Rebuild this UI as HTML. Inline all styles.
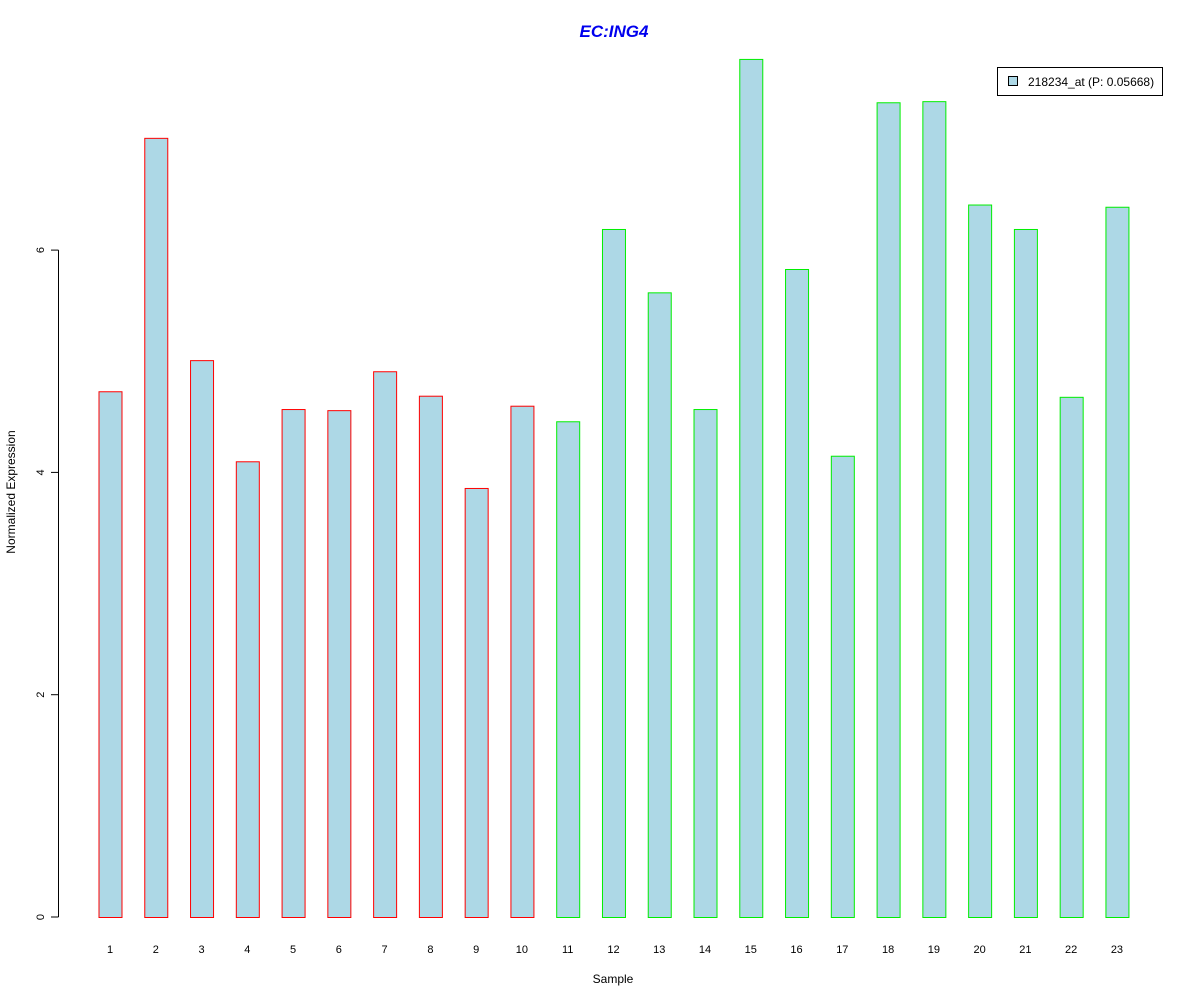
<!DOCTYPE html>
<html><head><meta charset="utf-8"><style>
body{margin:0;background:#fff;}
svg{display:block;font-family:"Liberation Sans",Arial,sans-serif;}
</style></head><body>
<svg id="chart" width="1200" height="1000" viewBox="0 0 1200 1000">
<rect width="1200" height="1000" fill="#fff"/>
<text x="614" y="37" text-anchor="middle" font-size="17" font-weight="bold" font-style="italic" fill="#0000ee">EC:ING4</text>
<text x="613" y="983" text-anchor="middle" font-size="12">Sample</text>
<text transform="translate(15,492) rotate(-90)" text-anchor="middle" font-size="12">Normalized Expression</text>
<g id="yaxis"></g>
<g id="bars"></g>
<g id="xlabels"></g>
<g>
<rect x="997.5" y="67.5" width="165" height="28" fill="#fff" stroke="#000"/>
<rect x="1008.5" y="76.5" width="9" height="9" fill="#add8e6" stroke="#000"/>
<text x="1028" y="86" font-size="12">218234_at (P: 0.05668)</text>
</g>
</svg>
<script>
const categories=["1","2","3","4","5","6","7","8","9","10","11","12","13","14","15","16","17","18","19","20","21","22","23"];
const values=[4.73,7.01,5.01,4.10,4.57,4.56,4.91,4.69,3.86,4.60,4.46,6.19,5.62,4.57,7.72,5.83,4.15,7.33,7.34,6.41,6.19,4.68,6.39];
const groups=["r","r","r","r","r","r","r","r","r","r","g","g","g","g","g","g","g","g","g","g","g","g","g"];
const yTicks=[0,2,4,6];
const NS="http://www.w3.org/2000/svg";
const y=v=>917-v*111.15;
const x=i=>110+i*45.77;
const bw=23;
const bars=document.getElementById('bars'),xl=document.getElementById('xlabels'),ya=document.getElementById('yaxis');
function mk(t,a){const e=document.createElementNS(NS,t);for(const k in a)e.setAttribute(k,a[k]);return e;}
const axl=mk('line',{x1:58.5,x2:58.5,y1:y(yTicks[yTicks.length-1]),y2:y(0),stroke:'#000'});


ya.appendChild(axl);
yTicks.forEach(t=>{
 const l=mk('line',{x1:51,x2:58.5,y1:y(t),y2:y(t),stroke:'#000'});
 
 
 ya.appendChild(l);
 const tx=mk('text',{transform:`translate(44,${y(t)}) rotate(-90)`,'text-anchor':'middle','font-size':11});
 tx.textContent=t;
 
 
 ya.appendChild(tx);
});
values.forEach((v,i)=>{
 const r=mk('rect',{x:x(i)-bw/2+0.5,y:y(v)+0.5,width:bw,height:y(0)-y(v),fill:'#add8e6',stroke:groups[i]==='r'?'#ff0000':'#00ee00'});
 
 
 bars.appendChild(r);
 const t=mk('text',{x:x(i),y:953,'text-anchor':'middle','font-size':11});
 t.textContent=categories[i];
 
 
 xl.appendChild(t);
});
</script>
</body></html>
